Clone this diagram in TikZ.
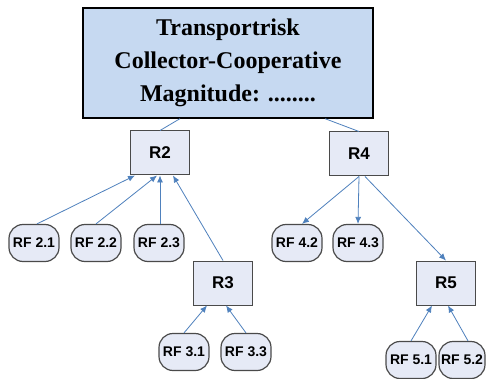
\documentclass[tikz,border=0pt]{standalone}
\usepackage{fontspec}
\setmainfont{Liberation Serif}
\setsansfont{Liberation Sans}
\usetikzlibrary{arrows.meta,positioning,shapes}

\definecolor{linkblue}{HTML}{4F81BD}
\definecolor{topfill}{HTML}{C6D9F1}
\definecolor{boxfill}{HTML}{E6EAF6}
\definecolor{boxline}{HTML}{4A4A4A}

\begin{document}
\begin{tikzpicture}[x=1pt, y=-1pt]

		\tikzstyle{top}=[rectangle, draw=black, line width=1.3pt, fill=topfill, align=center, minimum width=290pt, minimum height=110pt, inner sep=0pt, font=\fontsize{24}{33}\selectfont\bfseries]
		\tikzstyle{risk}=[rectangle, draw=boxline, line width=1pt, fill=boxfill, minimum width=59pt, minimum height=44pt, inner sep=0pt, font=\sffamily\fontsize{17}{19}\selectfont\bfseries]
		\tikzstyle{factor}=[rectangle, rounded corners=14pt, draw=boxline, line width=1.2pt, fill=boxfill, minimum width=50pt, minimum height=37pt, inner sep=0pt, font=\sffamily\fontsize{14}{16}\selectfont\bfseries]
		\tikzstyle{link}=[linkblue, line width=0.8pt]
		\tikzstyle{arr}=[link, -{Latex[length=7pt, width=6pt]}]

		\clip (0,0) rectangle (486,379);
		\fill[white] (0,0) rectangle (486,379);

		\node[top] (top) at (228,63) {Transportrisk\\Collector-Cooperative\\Magnitude: ........};

		\node[risk] (r2) at (160,153) {R2};
		\node[risk] (r4) at (359,154) {R4};
		\node[risk] (r3) at (223,283) {R3};
		\node[risk] (r5) at (446,283) {R5};

		\node[factor] (rf21) at (34,243)  {RF 2.1};
		\node[factor] (rf22) at (96,243)  {RF 2.2};
		\node[factor] (rf23) at (159,243) {RF 2.3};
		\node[factor] (rf42) at (297,243) {RF 4.2};
		\node[factor] (rf43) at (358,243) {RF 4.3};
		\node[factor] (rf31) at (184,352) {RF 3.1};
		\node[factor] (rf33) at (246,352) {RF 3.3};
		\node[factor] (rf51) at (411,360) {RF 5.1};
		\node[factor, minimum width=46pt] (rf52) at (462,360) {RF 5.2};

		% top links
		\draw[link] ([xshift=-48pt]top.south) -- (r2.north);
		\draw[link] ([xshift=97pt]top.south) -- (r4.north);

		% factors into R2
		\draw[arr] ([xshift=3pt]rf21.north) -- ([xshift=-25pt]r2.south);
		\draw[arr] (rf22.north) -- ([xshift=-3pt]r2.south);
		\draw[arr] ([xshift=1pt]rf23.north) -- (r2.south);
		\draw[arr] (r3.north) -- ([xshift=13pt]r2.south);

		% R4 branches
		\draw[arr] (r4.south) -- ([xshift=5pt]rf42.north);
		\draw[arr] (r4.south) -- (rf43.north);
		\draw[arr] ([xshift=6pt]r4.south) -- (r5.north);

		% factors into R3 and R5
		\draw[arr] (rf31.north) -- ([xshift=-16pt]r3.south);
		\draw[arr] (rf33.north) -- ([xshift=3pt]r3.south);
		\draw[arr] (rf51.north) -- ([xshift=-14pt]r5.south);
		\draw[arr] ([xshift=6pt]rf52.north) -- ([xshift=2pt]r5.south);

\end{tikzpicture}
\end{document}
